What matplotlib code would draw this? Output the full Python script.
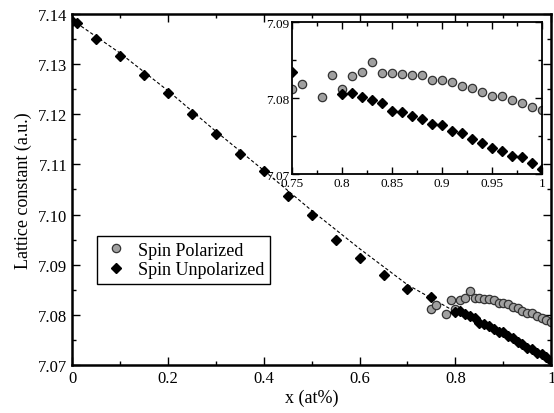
import matplotlib
matplotlib.use("Agg")
import matplotlib.pyplot as plt
from matplotlib.ticker import MultipleLocator, FuncFormatter

plt.rcParams["font.family"] = ["Liberation Serif", "DejaVu Serif"]

# Spin unpolarized (diamonds)
x_unpol = [0.0, 0.01, 0.05, 0.10, 0.15, 0.20, 0.25, 0.30, 0.35, 0.40, 0.45,
           0.50, 0.55, 0.60, 0.65, 0.70, 0.75,
           0.80, 0.81, 0.82, 0.83, 0.84, 0.85, 0.86, 0.87, 0.88, 0.89, 0.90,
           0.91, 0.92, 0.93, 0.94, 0.95, 0.96, 0.97, 0.98, 0.99, 1.00]
y_unpol = [7.1386, 7.1381, 7.1350, 7.1317, 7.1278, 7.1243, 7.1200, 7.1161,
           7.1120, 7.1086, 7.1036, 7.1000, 7.0950, 7.0914, 7.0880, 7.0852,
           7.0835,
           7.0806, 7.0807, 7.0802, 7.0798, 7.0794, 7.0783, 7.0782, 7.0777,
           7.0772, 7.0766, 7.0765, 7.0757, 7.0754, 7.0746, 7.0741, 7.0734,
           7.0731, 7.0724, 7.0722, 7.0715, 7.0707]

# Spin polarized (circles)
x_pol = [0.75, 0.76, 0.78, 0.79, 0.80, 0.81, 0.82, 0.83, 0.84, 0.85, 0.86,
         0.87, 0.88, 0.89, 0.90, 0.91, 0.92, 0.93, 0.94, 0.95, 0.96, 0.97,
         0.98, 0.99, 1.00]
y_pol = [7.0812, 7.0819, 7.0801, 7.0830, 7.0812, 7.0829, 7.0834, 7.0847,
         7.0833, 7.0833, 7.0832, 7.0831, 7.0830, 7.0824, 7.0824, 7.0821,
         7.0816, 7.0814, 7.0808, 7.0803, 7.0803, 7.0798, 7.0793, 7.0789,
         7.0785]

# dashed guide line
x_fit = [0.0, 0.1, 0.2, 0.3, 0.4, 0.5, 0.6, 0.7, 0.8]
y_fit = [7.1388, 7.1322, 7.1247, 7.1166, 7.1088, 7.1008, 7.0932, 7.0860, 7.0806]

fig = plt.figure(figsize=(5.54, 4.14), dpi=100)
ax = fig.add_axes([0.130, 0.116, 0.865, 0.848])

circ = dict(marker="o", linestyle="none", markersize=6, markerfacecolor="#a0a0a0",
            markeredgecolor="#333333", markeredgewidth=0.9)
diam = dict(marker="D", linestyle="none", markersize=5.5, color="black")

ax.plot(x_fit, y_fit, linestyle=(0, (3, 2)), color="black", linewidth=0.8)
ax.plot(x_pol, y_pol, label="Spin Polarized", **circ)
ax.plot(x_unpol, y_unpol, label="Spin Unpolarized", **diam)

ax.set_xlim(0, 1)
ax.set_ylim(7.07, 7.14)
ax.xaxis.set_major_locator(MultipleLocator(0.2))
ax.xaxis.set_minor_locator(MultipleLocator(0.1))
ax.yaxis.set_major_locator(MultipleLocator(0.01))
ax.yaxis.set_minor_locator(MultipleLocator(0.005))
ax.xaxis.set_major_formatter(FuncFormatter(lambda v, p: "%g" % round(v, 2)))
ax.yaxis.set_major_formatter(FuncFormatter(lambda v, p: "%.2f" % v))
ax.tick_params(which="both", direction="in", top=True, right=True, labelsize=12, width=1)
ax.tick_params(which="major", length=6)
ax.tick_params(which="minor", length=3)
for s in ax.spines.values():
    s.set_linewidth(1.8)
ax.set_xlabel("x (at%)", fontsize=13, labelpad=2)
ax.set_ylabel("Lattice constant (a.u.)", fontsize=13, labelpad=4)

leg = ax.legend(loc="lower left", bbox_to_anchor=(0.052, 0.231), fontsize=13,
                frameon=True, fancybox=False, framealpha=1, edgecolor="black",
                borderpad=0.3, handletextpad=0.5, labelspacing=0.15,
                handlelength=1.5, borderaxespad=0)
leg.get_frame().set_linewidth(1.0)

ins = fig.add_axes([0.527, 0.577, 0.451, 0.367])
ins.plot(x_pol, y_pol, **circ)
ins.plot(x_unpol, y_unpol, **diam)
ins.set_xlim(0.75, 1.0)
ins.set_ylim(7.07, 7.09)
ins.xaxis.set_major_locator(MultipleLocator(0.05))
ins.xaxis.set_minor_locator(MultipleLocator(0.025))
ins.yaxis.set_major_locator(MultipleLocator(0.01))
ins.yaxis.set_minor_locator(MultipleLocator(0.005))
ins.xaxis.set_major_formatter(FuncFormatter(lambda v, p: "%g" % round(v, 3)))
ins.yaxis.set_major_formatter(FuncFormatter(lambda v, p: "%.2f" % v))
ins.tick_params(which="both", direction="in", top=True, right=True, labelsize=9.5,
                width=1, pad=2)
ins.tick_params(which="major", length=5)
ins.tick_params(which="minor", length=3)
for s in ins.spines.values():
    s.set_linewidth(1.3)

fig.savefig("out.png", dpi=100)
